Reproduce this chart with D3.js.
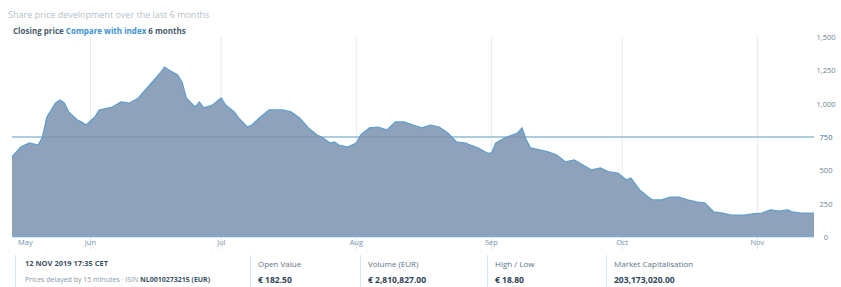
<!DOCTYPE html>
<html>
<head>
<meta charset="utf-8">
<script src="https://cdn.jsdelivr.net/npm/d3@7"></script>
<style>
  body { margin: 0; background: #fff; }
  svg { display: block; font-family: "Open Sans", "DejaVu Sans", sans-serif; }
</style>
</head>
<body>
<svg width="841" height="287"></svg>
<script>
// closing prices, one point every few days
var dates = [
  "2019-05-14", "2019-05-16", "2019-05-18", "2019-05-20", "2019-05-21", "2019-05-22", "2019-05-24", "2019-05-25",
  "2019-05-26", "2019-05-27", "2019-05-29", "2019-05-30", "2019-05-31", "2019-06-02", "2019-06-03", "2019-06-06",
  "2019-06-08", "2019-06-10", "2019-06-12", "2019-06-14", "2019-06-15", "2019-06-17", "2019-06-18", "2019-06-19",
  "2019-06-21", "2019-06-22", "2019-06-23", "2019-06-25", "2019-06-26", "2019-06-27", "2019-06-29", "2019-07-01",
  "2019-07-02", "2019-07-04", "2019-07-05", "2019-07-07", "2019-07-08", "2019-07-10", "2019-07-12", "2019-07-15",
  "2019-07-17", "2019-07-19", "2019-07-21", "2019-07-23", "2019-07-24", "2019-07-26", "2019-07-27", "2019-07-28",
  "2019-07-30", "2019-08-01", "2019-08-02", "2019-08-04", "2019-08-06", "2019-08-08", "2019-08-10", "2019-08-12",
  "2019-08-14", "2019-08-16", "2019-08-18", "2019-08-20", "2019-08-22", "2019-08-24", "2019-08-26", "2019-08-29",
  "2019-08-31", "2019-09-01", "2019-09-02", "2019-09-04", "2019-09-07", "2019-09-08", "2019-09-09", "2019-09-10",
  "2019-09-14", "2019-09-16", "2019-09-18", "2019-09-20", "2019-09-22", "2019-09-24", "2019-09-26", "2019-09-28",
  "2019-09-30", "2019-10-02", "2019-10-03", "2019-10-05", "2019-10-07", "2019-10-08", "2019-10-10", "2019-10-12",
  "2019-10-14", "2019-10-16", "2019-10-18", "2019-10-20", "2019-10-22", "2019-10-24", "2019-10-26", "2019-10-29",
  "2019-10-31", "2019-11-02", "2019-11-04", "2019-11-06", "2019-11-08", "2019-11-09", "2019-11-11", "2019-11-14"
];
var prices = [
  600, 675, 705, 690, 750, 900, 1005, 1028,
  1005, 938, 878, 863, 840, 900, 953, 975,
  1013, 1005, 1043, 1118, 1155, 1230, 1275, 1253,
  1215, 1163, 1043, 975, 1013, 968, 990, 1043,
  990, 938, 893, 825, 840, 900, 953, 953,
  938, 893, 818, 765, 750, 705, 713, 690,
  675, 705, 765, 818, 825, 803, 863, 863,
  840, 818, 840, 825, 780, 713, 705, 668,
  630, 630, 705, 743, 780, 818, 728, 668,
  638, 615, 563, 578, 540, 503, 518, 488,
  480, 428, 443, 353, 300, 278, 278, 300,
  300, 278, 263, 255, 188, 180, 165, 165,
  173, 180, 203, 195, 203, 188, 180, 180
];

var xTickDates = ["2019-05-14", "2019-06-01", "2019-07-01", "2019-08-01", "2019-09-01", "2019-10-01", "2019-11-01"];
var xTickLabels = ["May", "Jun", "Jul", "Aug", "Sep", "Oct", "Nov"];
var yTicks = [0, 250, 500, 750, 1000, 1250, 1500];
var refPrice = 750;

var infoLabels = ["Open Value", "Volume (EUR)", "High / Low", "Market Capitalisation"];
var infoValues = ["€ 182.50", "€ 2,810,827.00", "€ 18.80", "203,173,020.00"];

var parse = d3.timeParse("%Y-%m-%d");
var data = dates.map(function(d, i) {
  return { date: parse(d), value: prices[i] };
});

var svg = d3.select("svg");

var x = d3.scaleTime()
  .domain([parse("2019-05-14"), parse("2019-11-14")])
  .range([12, 814]);

var y = d3.scaleLinear()
  .domain([0, 1500])
  .range([237, 37]);

// header
svg.append("text")
  .attr("x", 8).attr("y", 18)
  .style("font-size", "9px")
  .style("fill", "#b3bfcb")
  .text("Share price development over the last 6 months");

var sub = svg.append("text")
  .attr("x", 13).attr("y", 34)
  .style("font-size", "8px")
  .style("font-weight", "bold");
sub.append("tspan").style("fill", "#4b5c6b").text("Closing price ");
sub.append("tspan").style("fill", "#3b8fcf").text("Compare with index ");
sub.append("tspan").style("fill", "#4b5c6b").text("6 months");

// vertical grid
svg.append("g")
  .selectAll("line")
  .data(xTickDates.slice(1))
  .enter().append("line")
  .attr("x1", function(d) { return x(parse(d)); })
  .attr("x2", function(d) { return x(parse(d)); })
  .attr("y1", 37)
  .attr("y2", 250)
  .attr("stroke", "#e3ecf4")
  .attr("stroke-width", 1);

// reference line (behind the area)
svg.append("line")
  .attr("x1", 12).attr("x2", 814)
  .attr("y1", y(refPrice)).attr("y2", y(refPrice))
  .attr("stroke", "#a9d2e3")
  .attr("stroke-width", 1.5);

var area = d3.area()
  .x(function(d) { return x(d.date); })
  .y0(y(0))
  .y1(function(d) { return y(d.value); });

var line = d3.line()
  .x(function(d) { return x(d.date); })
  .y(function(d) { return y(d.value); });

svg.append("path")
  .datum(data)
  .attr("d", area)
  .attr("fill", "#8ea2bb");

// faint trace of the reference line over the area
svg.append("line")
  .attr("x1", 12).attr("x2", 814)
  .attr("y1", y(refPrice)).attr("y2", y(refPrice))
  .attr("stroke", "#50678a")
  .attr("stroke-opacity", 0.18)
  .attr("stroke-width", 1.5);

svg.append("path")
  .datum(data)
  .attr("d", line)
  .attr("fill", "none")
  .attr("stroke", "#5d9dcc")
  .attr("stroke-width", 1.2);

// base line
svg.append("line")
  .attr("x1", x.range()[0]).attr("x2", x.range()[1])
  .attr("y1", y(0) - 0.5).attr("y2", y(0) - 0.5)
  .attr("stroke", "#7ea9cf")
  .attr("stroke-width", 1.5);

// x axis labels
svg.append("g")
  .selectAll("text")
  .data(xTickDates)
  .enter().append("text")
  .attr("x", function(d, i) { return i === 0 ? x(parse(d)) + 6 : x(parse(d)); })
  .attr("y", 245)
  .attr("text-anchor", function(d, i) { return i === 0 ? "start" : "middle"; })
  .style("font-size", "7.5px")
  .style("fill", "#7793ab")
  .text(function(d, i) { return xTickLabels[i]; });

// y axis labels on the right
svg.append("g")
  .selectAll("text")
  .data(yTicks)
  .enter().append("text")
  .attr("x", 826)
  .attr("y", function(d) { return y(d) + 3; })
  .attr("text-anchor", "middle")
  .style("font-size", "7.5px")
  .style("fill", function(d) { return d === refPrice ? "#3f6f94" : "#6c7f90"; })
  .text(function(d) { return d3.format(",")(d); });

// info row
svg.append("line")
  .attr("x1", 15.5).attr("x2", 15.5)
  .attr("y1", 255).attr("y2", 287)
  .attr("stroke", "#d6e6f2");

svg.append("text")
  .attr("x", 25).attr("y", 266)
  .style("font-size", "7.5px")
  .style("font-weight", "bold")
  .style("fill", "#3d5366")
  .text("12 NOV 2019 17:35 CET");

var src = svg.append("text")
  .attr("x", 25).attr("y", 282)
  .style("font-size", "7px");
src.append("tspan").style("fill", "#8798a8").text("Prices delayed by 15 minutes · ISIN ");
src.append("tspan").style("fill", "#3d5366").style("font-weight", "bold").text("NL0010273215 (EUR)");

var boxX = [250, 360, 487, 606];

var info = svg.append("g")
  .selectAll("g")
  .data(infoLabels)
  .enter().append("g")
  .attr("transform", function(d, i) { return "translate(" + boxX[i] + ",0)"; });

info.append("line")
  .attr("x1", 0.5).attr("x2", 0.5)
  .attr("y1", 255).attr("y2", 287)
  .attr("stroke", "#d6e6f2");

info.append("text")
  .attr("x", 8).attr("y", 267)
  .style("font-size", "8px")
  .style("fill", "#5d7488")
  .text(function(d) { return d; });

info.append("text")
  .attr("x", 8).attr("y", 283)
  .style("font-size", "8.5px")
  .style("font-weight", "bold")
  .style("fill", "#2f4456")
  .text(function(d, i) { return infoValues[i]; });
</script>
</body>
</html>
